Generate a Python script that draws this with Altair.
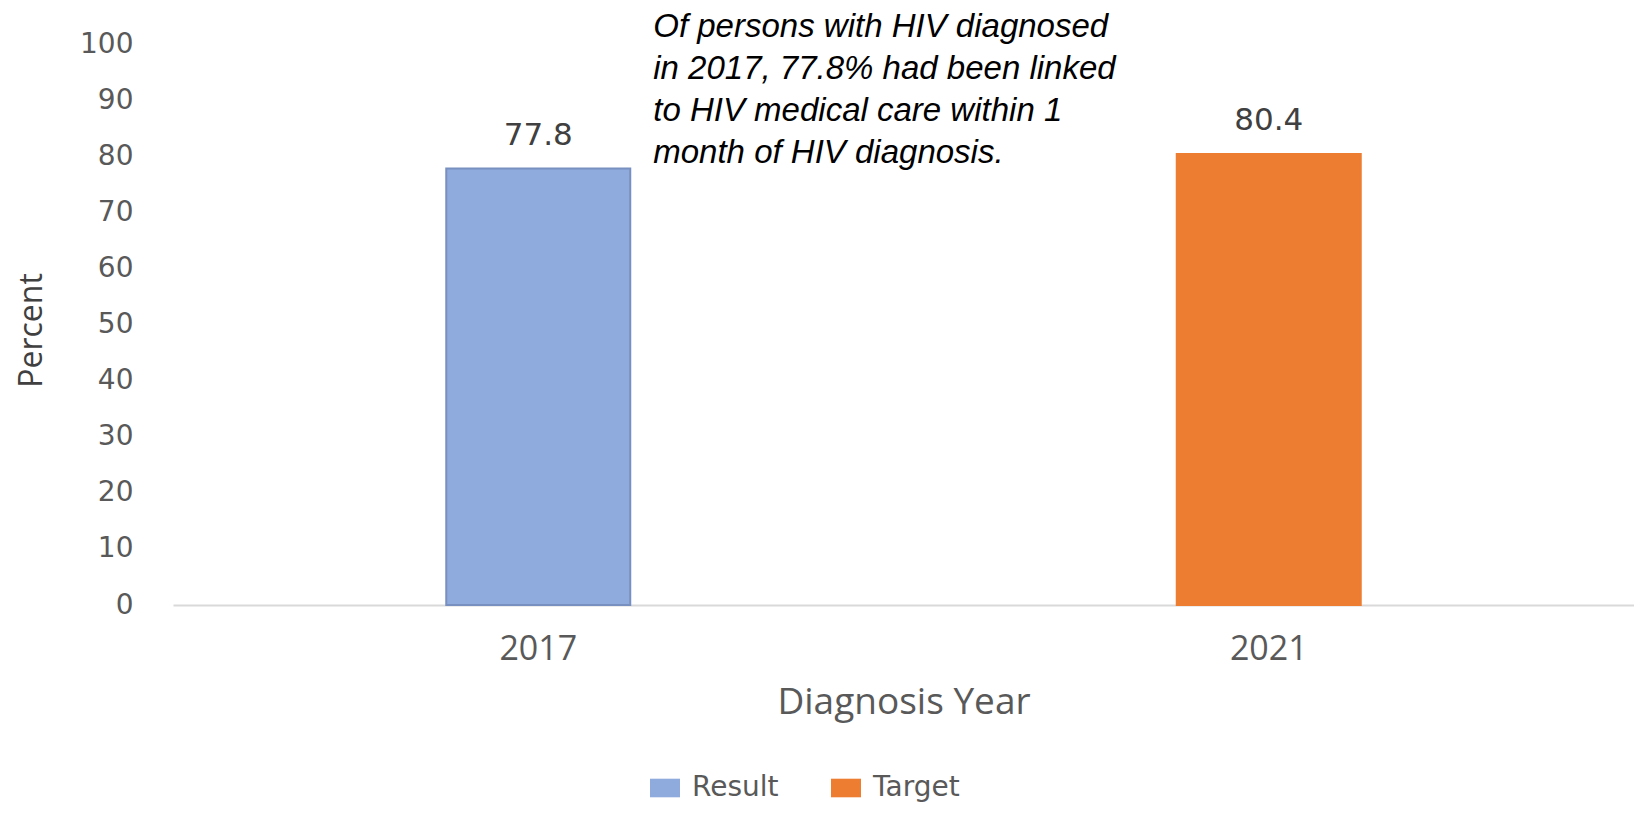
import altair as alt
import pandas as pd

years = ["2017", "2021"]
values = [77.8, 80.4]
series = ["Result", "Target"]
note_lines = [
    "Of persons with HIV diagnosed",
    "in 2017, 77.8% had been linked",
    "to HIV medical care within 1",
    "month of HIV diagnosis.",
]
y_ticks = [0, 10, 20, 30, 40, 50, 60, 70, 80, 90, 100]

df = pd.DataFrame({"year": years, "value": values, "series": series})
note_df = pd.DataFrame({"note": ["\n".join(note_lines)], "year": ["2017"]})

x_enc = alt.X(
    "year:N",
    scale=alt.Scale(paddingInner=0, paddingOuter=0),
    axis=alt.Axis(
        title="Diagnosis Year",
        labelAngle=0,
        labelFont="Open Sans",
        labelFontSize=34,
        labelColor="#595959",
        labelPadding=27,
        ticks=False,
        domainColor="#D9D9D9",
        domainWidth=2,
        titleFont="Open Sans",
        titleFontSize=37,
        titleFontWeight="normal",
        titleColor="#595959",
        titleY=108,
        titleBaseline="alphabetic",
    ),
)
y_enc = alt.Y(
    "value:Q",
    scale=alt.Scale(domain=[0, 100], nice=False, zero=True),
    axis=alt.Axis(
        title="Percent",
        values=y_ticks,
        grid=False,
        domain=False,
        ticks=False,
        labelFont="DejaVu Sans",
        labelFontSize=28,
        labelColor="#595959",
        labelPadding=40,
        labelBaseline="middle",
        titleFont="Open Sans",
        titleFontSize=32,
        titleFontWeight="normal",
        titleColor="#404040",
        titleX=-132,
        titleY=286,
        titleAlign="center",
        titleBaseline="alphabetic",
        titleAngle=-90,
    ),
)

bars = alt.Chart(df).mark_bar(size=184, strokeWidth=2).encode(
    x=x_enc,
    y=y_enc,
    color=alt.Color(
        "series:N",
        scale=alt.Scale(domain=series, range=["#8FAADC", "#ED7D31"]),
        legend=alt.Legend(
            title=None,
            orient="none",
            direction="horizontal",
            legendX=477,
            legendY=729,
            padding=0,
            symbolType="M-1,-0.62H1V0.62H-1Z",
            symbolSize=900,
            symbolStrokeWidth=0,
            symbolOpacity=1,
            labelFont="DejaVu Sans",
            labelFontSize=28,
            labelColor="#595959",
            labelOffset=12,
            columnPadding=52,
        ),
    ),
    stroke=alt.Stroke(
        "series:N",
        scale=alt.Scale(domain=series, range=["#7890BF", "#ED7D31"]),
        legend=None,
    ),
)

labels = alt.Chart(df).mark_text(
    font="DejaVu Sans", fontSize=31, color="#404040", baseline="alphabetic", dy=-24
).encode(x="year:N", y="value:Q", text=alt.Text("value:Q", format=".1f"))

note = alt.Chart(note_df).mark_text(
    font="Liberation Sans",
    fontStyle="italic",
    fontSize=33,
    color="#000000",
    align="left",
    baseline="top",
    lineBreak="\n",
    lineHeight=42,
    dx=115,
    dy=-33,
).encode(x="year:N", y=alt.datum(100), text="note:N")

chart = (
    alt.layer(bars, labels, note)
    .properties(
        width=1461,
        height=561,
        autosize=alt.AutoSizeParams(type="none"),
        padding={"left": 165, "top": 36, "right": 0, "bottom": 201},
    )
    .configure_view(stroke=None)
)

chart.save("out.html", embed_options={"renderer": "svg", "actions": False})
